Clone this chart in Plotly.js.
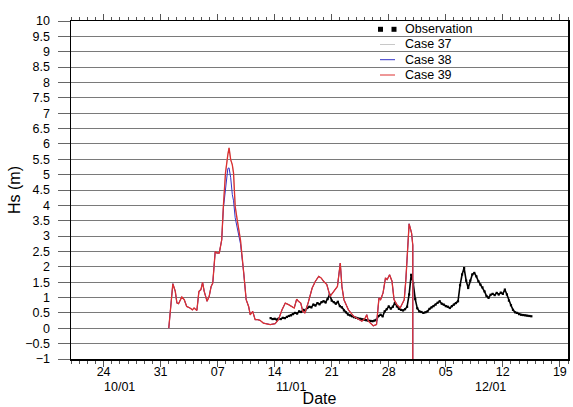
<!DOCTYPE html>
<html>
<head>
<meta charset="utf-8">
<script src="https://cdn.plot.ly/plotly-3.0.1.min.js"></script>
<style>html,body{margin:0;padding:0;background:#fff;}#chart{width:573px;height:407px;}</style>
</head>
<body>
<div id="chart"></div>
<script>
// ---------- data ----------
const baseDate = '2012-10-20';            // day 0 of the day offsets below
const xRange = ['2012-10-20', '2012-12-20'];
const dayTickVals = ['2012-10-24','2012-10-31','2012-11-07','2012-11-14','2012-11-21','2012-11-28','2012-12-05','2012-12-12','2012-12-19'];
const dayTickText = ['24','31','07','14','21','28','05','12','19'];
const monthLabels = ['10/01','11/01','12/01'];
const monthLabelPos = ['2012-10-26','2012-11-16','2012-12-10 12:00'];
const monthBoundaries = ['2012-11-01','2012-12-01'];
const yTickVals = [-1,-0.5,0,0.5,1,1.5,2,2.5,3,3.5,4,4.5,5,5.5,6,6.5,7,7.5,8,8.5,9,9.5,10];
const yTickText = ['\u22121','\u22120.5','0','0.5','1','1.5','2','2.5','3','3.5','4','4.5','5','5.5','6','6.5','7','7.5','8','8.5','9','9.5','10'];
const seriesNames = ['Observation','Case 37','Case 38','Case 39'];

// Observation: first sample (days after baseDate) and sampling step (days)
const obsStartDay = 24.5;
const obsStepDay = 0.25;
const obsHs = [
 0.33,0.30,0.31,0.28,0.32,0.30,0.34,0.33,0.37,0.40,0.42,0.46,0.50,0.48,0.55,0.53,
 0.60,0.58,0.66,0.70,0.68,0.77,0.74,0.82,0.78,0.85,0.88,0.84,0.95,1.09,0.90,0.85,
 0.80,0.86,0.72,0.68,0.58,0.52,0.45,0.42,0.39,0.36,0.34,0.32,0.31,0.29,0.28,0.26,
 0.25,0.24,0.23,0.25,0.28,0.40,0.44,0.39,0.55,0.62,0.71,0.64,0.70,0.82,0.71,0.63,
 0.60,0.58,0.62,0.70,1.10,1.74,1.47,0.95,0.65,0.55,0.53,0.50,0.52,0.55,0.63,0.68,
 0.72,0.77,0.83,0.88,0.80,0.77,0.72,0.70,0.66,0.72,0.77,0.82,0.88,1.40,1.75,1.96,
 1.55,1.31,1.55,1.75,1.80,1.69,1.53,1.42,1.33,1.20,1.05,0.99,1.09,1.12,1.08,1.15,
 1.10,1.16,1.12,1.26,1.10,0.90,0.75,0.60,0.52,0.50,0.46,0.44,0.43,0.42,0.41,0.40,
 0.39
];

// Model cases: output times (days after baseDate)
const caseDay = [
 12.0,12.18,12.5,12.8,13.0,13.2,13.6,13.9,14.2,14.6,14.9,15.1,15.45,15.7,15.95,16.15,
 16.35,16.7,16.96,17.2,17.4,17.7,17.9,18.2,18.5,18.7,18.96,19.25,19.4,19.6,19.8,19.95,
 20.15,20.4,20.8,21.2,21.5,21.8,22.0,22.3,22.6,22.9,23.2,23.6,24.2,24.45,25.06,25.46,
 25.9,26.3,26.7,27.1,27.4,27.7,27.9,28.2,28.45,28.7,29.1,29.6,30.0,30.4,30.7,31.0,
 31.4,31.8,32.2,32.7,33.05,33.25,33.5,34.05,34.7,35.3,35.7,36.1,36.3,36.5,37.1,37.5,
 37.8,38.0,38.3,38.6,38.8,39.1,39.4,39.65,40.0,40.4,40.9,41.1,41.3,41.5,41.8,41.95,
 42.05
];
const case37Hs = [
 0.0,0.55,1.45,1.2,0.82,0.80,1.02,0.93,0.71,0.66,0.60,0.66,0.58,1.2,1.26,1.49,
 1.2,0.88,1.04,1.36,1.47,2.5,2.45,2.45,2.88,3.97,5.05,5.65,5.87,5.49,5.32,5.05,
 3.97,3.53,2.88,1.8,0.93,0.71,0.44,0.55,0.28,0.28,0.26,0.17,0.14,0.12,0.15,0.28,
 0.6,0.82,0.77,0.71,0.66,0.95,0.88,0.82,0.55,0.5,0.82,1.31,1.53,1.69,1.64,1.53,
 1.42,1.04,1.2,1.36,2.12,1.36,0.93,0.6,0.39,0.28,0.23,0.33,0.44,0.23,0.08,0.12,
 0.99,0.93,1.15,1.64,1.58,1.74,1.53,0.93,0.77,0.66,0.93,1.58,2.4,3.4,3.1,2.7,
 -999
];
const case38Hs = [
 0.0,0.55,1.45,1.2,0.82,0.80,1.02,0.93,0.71,0.66,0.60,0.66,0.58,1.2,1.26,1.49,
 1.2,0.88,1.04,1.36,1.47,2.5,2.45,2.45,2.88,3.9,4.5,5.2,5.22,4.9,4.35,4.15,
 3.6,3.3,2.75,1.8,0.93,0.71,0.44,0.55,0.28,0.28,0.26,0.17,0.14,0.12,0.15,0.28,
 0.6,0.82,0.77,0.71,0.66,0.95,0.88,0.82,0.55,0.5,0.82,1.31,1.53,1.69,1.64,1.53,
 1.42,1.04,1.2,1.36,2.12,1.36,0.93,0.6,0.39,0.28,0.23,0.33,0.44,0.23,0.08,0.12,
 0.99,0.93,1.15,1.64,1.58,1.74,1.53,0.93,0.77,0.66,0.93,1.58,2.4,3.4,3.1,2.7,
 -999
];
const case39Hs = [
 0.0,0.55,1.45,1.2,0.82,0.80,1.02,0.93,0.71,0.66,0.60,0.66,0.58,1.2,1.26,1.49,
 1.2,0.88,1.04,1.36,1.47,2.5,2.45,2.45,2.88,3.97,5.05,5.65,5.87,5.49,5.32,5.05,
 3.97,3.53,2.88,1.8,0.93,0.71,0.44,0.55,0.28,0.28,0.26,0.17,0.14,0.12,0.15,0.28,
 0.6,0.82,0.77,0.71,0.66,0.95,0.88,0.82,0.55,0.5,0.82,1.31,1.53,1.69,1.64,1.53,
 1.42,1.04,1.2,1.36,2.12,1.36,0.93,0.6,0.39,0.28,0.23,0.33,0.44,0.23,0.08,0.12,
 0.99,0.93,1.15,1.64,1.58,1.74,1.53,0.93,0.77,0.66,0.93,1.58,2.4,3.4,3.1,2.7,
 -999
];

// ---------- helpers ----------
const baseMs = Date.parse(baseDate + 'T00:00:00Z');
function dayToDate(d) {
  return new Date(baseMs + d * 86400000).toISOString().slice(0, 19).replace('T', ' ');
}
const obsTimes = obsHs.map((_, i) => dayToDate(obsStartDay + i * obsStepDay));
const caseTimes = caseDay.map(dayToDate);

const COLORS = {obs: '#000000', c37: '#c8c8c8', c38: '#3434c8', c39: '#dd3030'};
const FONT = '"Liberation Sans", Arial, Helvetica, sans-serif';

const traces = [
  {x: obsTimes, y: obsHs, name: seriesNames[0], type: 'scatter', mode: 'lines+markers',
   line: {color: COLORS.obs, width: 1.6}, marker: {symbol: 'square', size: 2.2, color: COLORS.obs}},
  {x: caseTimes, y: case37Hs, name: seriesNames[1], type: 'scatter', mode: 'lines',
   line: {color: COLORS.c37, width: 1}},
  {x: caseTimes, y: case38Hs, name: seriesNames[2], type: 'scatter', mode: 'lines',
   line: {color: COLORS.c38, width: 1}},
  {x: caseTimes, y: case39Hs, name: seriesNames[3], type: 'scatter', mode: 'lines',
   line: {color: COLORS.c39, width: 1.3}}
];

// plot-area geometry for the hand-made legend (pixel -> paper)
const M = {l: 71, r: 5, t: 21, b: 48}, W = 573, H = 407;
const pw = W - M.l - M.r, ph = H - M.t - M.b;
const px = x => (x - M.l) / pw;
const py = y => (H - M.b - y) / ph;

const legendRows = [29.3, 44.5, 59.7, 75];
const shapes = [
  {type: 'rect', xref: 'paper', yref: 'paper', x0: px(378), x1: px(383), y0: py(31.8), y1: py(26.8),
   fillcolor: COLORS.obs, line: {width: 0}},
  {type: 'rect', xref: 'paper', yref: 'paper', x0: px(391.5), x1: px(396.5), y0: py(31.8), y1: py(26.8),
   fillcolor: COLORS.obs, line: {width: 0}},
  {type: 'line', xref: 'paper', yref: 'paper', x0: px(380), x1: px(395), y0: py(legendRows[1]), y1: py(legendRows[1]),
   line: {color: COLORS.c37, width: 1}},
  {type: 'line', xref: 'paper', yref: 'paper', x0: px(380), x1: px(395), y0: py(legendRows[2]), y1: py(legendRows[2]),
   line: {color: COLORS.c38, width: 1}},
  {type: 'line', xref: 'paper', yref: 'paper', x0: px(380), x1: px(395), y0: py(legendRows[3]), y1: py(legendRows[3]),
   line: {color: COLORS.c39, width: 1}}
];

const annotations = [];
seriesNames.forEach((n, i) => {
  annotations.push({text: n, xref: 'paper', yref: 'paper', x: px(403), y: py(legendRows[i]),
    xanchor: 'left', yanchor: 'middle', showarrow: false, font: {family: FONT, size: 12.5, color: '#000'}});
});
monthLabels.forEach((m, i) => {
  annotations.push({text: m, xref: 'x', yref: 'paper', x: monthLabelPos[i], y: py(386.5),
    xanchor: 'center', yanchor: 'middle', showarrow: false, font: {family: FONT, size: 12.5, color: '#000'}});
});

const layout = {
  width: W, height: H,
  margin: M,
  paper_bgcolor: '#ffffff', plot_bgcolor: '#ffffff',
  font: {family: FONT, size: 12, color: '#000'},
  showlegend: false,
  xaxis: {
    type: 'date', range: xRange,
    tickmode: 'array', tickvals: dayTickVals, ticktext: dayTickText,
    ticks: 'outside', ticklen: 6, tickwidth: 1, tickcolor: '#555',
    ticklabelstandoff: -6,
    minor: {dtick: 86400000, tick0: baseDate, ticks: 'outside', ticklen: 3, tickwidth: 1, tickcolor: '#555', showgrid: false},
    showgrid: false, zeroline: false,
    showline: true, linecolor: '#000', linewidth: 1.5, mirror: 'ticks',
    tickfont: {family: FONT, size: 12.5, color: '#000'},
    title: {text: 'Date', font: {family: FONT, size: 16, color: '#000'}, standoff: 26}
  },
  xaxis2: {
    type: 'date', range: xRange, overlaying: 'x', anchor: 'y', side: 'top',
    tickmode: 'array', tickvals: monthBoundaries,
    ticks: 'outside', ticklen: 12, tickwidth: 1, tickcolor: '#777',
    showticklabels: false, showgrid: false, zeroline: false, showline: false
  },
  yaxis: {
    range: [-1, 10],
    tickmode: 'array', tickvals: yTickVals, ticktext: yTickText,
    ticks: 'outside', ticklen: 12, tickwidth: 1, tickcolor: '#666',
    ticklabelstandoff: 5,
    showgrid: true, gridcolor: '#7a7a7a', gridwidth: 1, zeroline: false,
    showline: true, linecolor: '#000', linewidth: 1.5, mirror: true,
    tickfont: {family: FONT, size: 12.5, color: '#000'},
    title: {text: 'Hs (m)', font: {family: FONT, size: 16, color: '#000'}, standoff: 0}
  },
  shapes: shapes,
  annotations: annotations
};

Plotly.newPlot('chart', traces, layout, {staticPlot: true, displayModeBar: false});
</script>
</body>
</html>
